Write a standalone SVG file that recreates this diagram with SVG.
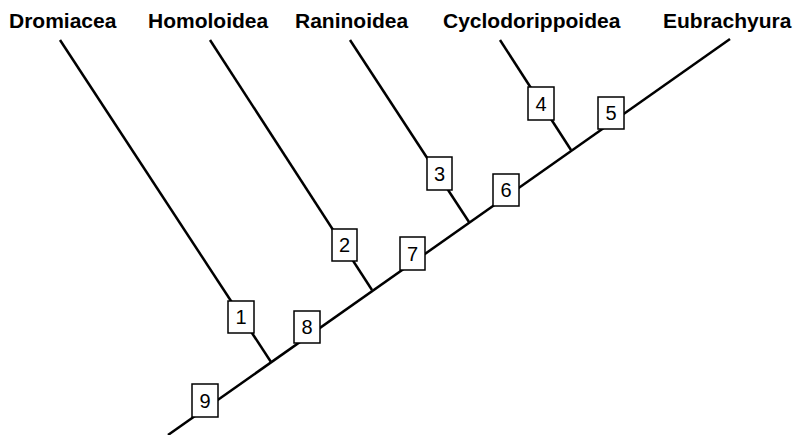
<svg xmlns="http://www.w3.org/2000/svg" width="808" height="435" viewBox="0 0 808 435">
<style>
.ln{stroke:#000;stroke-width:2.5;fill:none;stroke-linecap:butt}
.bx{fill:#fff;stroke:#000;stroke-width:1.5}
.lab{font-family:"Liberation Sans",Arial,sans-serif;font-weight:bold;font-size:21px;fill:#000}
.num{font-family:"Liberation Sans",Arial,sans-serif;font-size:20px;fill:#000;text-anchor:middle}
</style>
<rect width="808" height="435" fill="#fff"/>
<g id="connectors">
<line class="ln" x1="168" y1="435" x2="730" y2="39"/>
<line class="ln" x1="60" y1="40" x2="271" y2="362"/>
<line class="ln" x1="210" y1="40" x2="372" y2="290"/>
<line class="ln" x1="350" y1="40" x2="469" y2="222"/>
<line class="ln" x1="500" y1="40" x2="571" y2="150"/>
</g>
<g id="labels">
<text class="lab" x="9" y="28">Dromiacea</text>
<text class="lab" x="148" y="28">Homoloidea</text>
<text class="lab" x="295" y="28">Raninoidea</text>
<text class="lab" x="443" y="28">Cyclodorippoidea</text>
<text class="lab" x="663" y="28">Eubrachyura</text>
</g>
<g id="node9"><rect class="bx" x="192" y="384" width="26" height="33"/><text class="num" x="205" y="408">9</text></g>
<g id="node1"><rect class="bx" x="228" y="301" width="26" height="32"/><text class="num" x="241" y="324">1</text></g>
<g id="node8"><rect class="bx" x="294" y="311" width="26" height="32"/><text class="num" x="307" y="334">8</text></g>
<g id="node2"><rect class="bx" x="332" y="229" width="25" height="32"/><text class="num" x="344.5" y="252">2</text></g>
<g id="node7"><rect class="bx" x="400" y="237" width="25" height="33"/><text class="num" x="412.5" y="261">7</text></g>
<g id="node3"><rect class="bx" x="427" y="157" width="25" height="33"/><text class="num" x="439.5" y="181">3</text></g>
<g id="node6"><rect class="bx" x="493" y="174" width="26" height="32"/><text class="num" x="506" y="197">6</text></g>
<g id="node4"><rect class="bx" x="528" y="87" width="26" height="33"/><text class="num" x="541" y="111">4</text></g>
<g id="node5"><rect class="bx" x="598" y="97" width="26" height="32"/><text class="num" x="611" y="120">5</text></g>
</svg>
